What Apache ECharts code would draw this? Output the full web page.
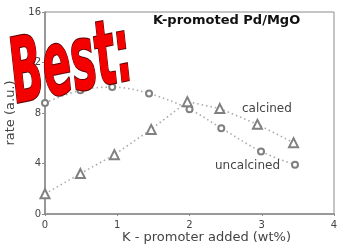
<!DOCTYPE html>
<html>
<head>
<meta charset="utf-8">
<script src="https://cdn.jsdelivr.net/npm/echarts@6/dist/echarts.min.js"></script>
<style>
  html, body { margin: 0; padding: 0; background: #fff; }
  #chart { width: 338px; height: 247px; }
</style>
</head>
<body>
<div id="chart"></div>
<script>
// K loading (wt%) and rate values
const xUncalcined = [0, 0.49, 0.93, 1.44, 2.0, 2.44, 2.99, 3.46];
const rateUncalcined = [8.8, 9.8, 10.05, 9.55, 8.3, 6.8, 4.95, 3.9];
const xCalcined = [0, 0.49, 0.96, 1.47, 1.97, 2.42, 2.94, 3.44];
const rateCalcined = [1.6, 3.2, 4.7, 6.7, 8.9, 8.35, 7.1, 5.65];
const xTicks = [0, 1, 2, 3, 4];
const yTicks = [0, 4, 8, 12, 16];

const font = '"DejaVu Sans", Verdana, sans-serif';
const pairs = (xs, ys) => xs.map((x, i) => [x, ys[i]]);

let chart = echarts.init(document.getElementById("chart"));

let option = {
  animation: false,
  grid: {
    left: 45, right: 4, top: 12, bottom: 33,
    outerBoundsMode: "none",
    show: true, borderColor: "#8a8a8a", borderWidth: 1
  },
  xAxis: {
    type: "value",
    min: xTicks[0], max: xTicks[xTicks.length - 1], interval: 1,
    axisLine: { lineStyle: { color: "#8a8a8a", width: 1.5 } },
    axisTick: { show: true, length: 2, lineStyle: { color: "#8a8a8a" } },
    axisLabel: { color: "#444", fontSize: 10, fontFamily: font, margin: 6 },
    splitLine: { show: false }
  },
  yAxis: {
    type: "value",
    min: yTicks[0], max: yTicks[yTicks.length - 1], interval: 4,
    name: "rate (a.u.)",
    nameLocation: "middle",
    nameGap: 24,
    nameTextStyle: { color: "#444", fontSize: 13, fontFamily: font },
    axisLine: { lineStyle: { color: "#8a8a8a", width: 1.5 } },
    axisTick: { show: true, length: 3, lineStyle: { color: "#8a8a8a" } },
    axisLabel: { color: "#444", fontSize: 10, fontFamily: font, margin: 4 },
    splitLine: { show: false }
  },
  series: [
    {
      name: "uncalcined",
      type: "line",
      smooth: 0.35,
      data: pairs(xUncalcined, rateUncalcined),
      symbol: "emptyCircle",
      symbolSize: 6,
      showAllSymbol: true,
      itemStyle: { color: "#808080", borderWidth: 1.2 },
      lineStyle: { color: "#aaa", width: 1.6, type: [1.5, 3] }
    },
    {
      name: "calcined",
      type: "line",
      data: pairs(xCalcined, rateCalcined),
      symbol: "emptyTriangle",
      symbolSize: 9,
      showAllSymbol: true,
      itemStyle: { color: "#808080", borderWidth: 1.2 },
      lineStyle: { color: "#aaa", width: 1.6, type: [1.5, 3] }
    }
  ],
  graphic: [
    {
      type: "text", left: 153, top: 14, z: 10,
      style: { text: "K-promoted Pd/MgO", font: "bold 13px " + font, fill: "#111" }
    },
    {
      type: "text", left: 242, top: 103, z: 10,
      style: { text: "calcined", font: "12px " + font, fill: "#444" }
    },
    {
      type: "text", left: 215, top: 160, z: 10,
      style: { text: "uncalcined", font: "12px " + font, fill: "#444" }
    },
    {
      type: "text", left: 122, top: 231, z: 10,
      style: { text: "K - promoter added (wt%)", font: "13px " + font, fill: "#444" }
    },
    {
      type: "text", x: 3, y: 36, rotation: 0.2, scaleX: 0.52, z: 100,
      style: {
        text: "Best:",
        font: 'italic bold 90px "Liberation Sans Narrow", "DejaVu Sans Condensed", sans-serif',
        fill: "#f40000", stroke: "#5a0000", lineWidth: 2
      }
    }
  ]
};
chart.setOption(option);
</script>
</body>
</html>
